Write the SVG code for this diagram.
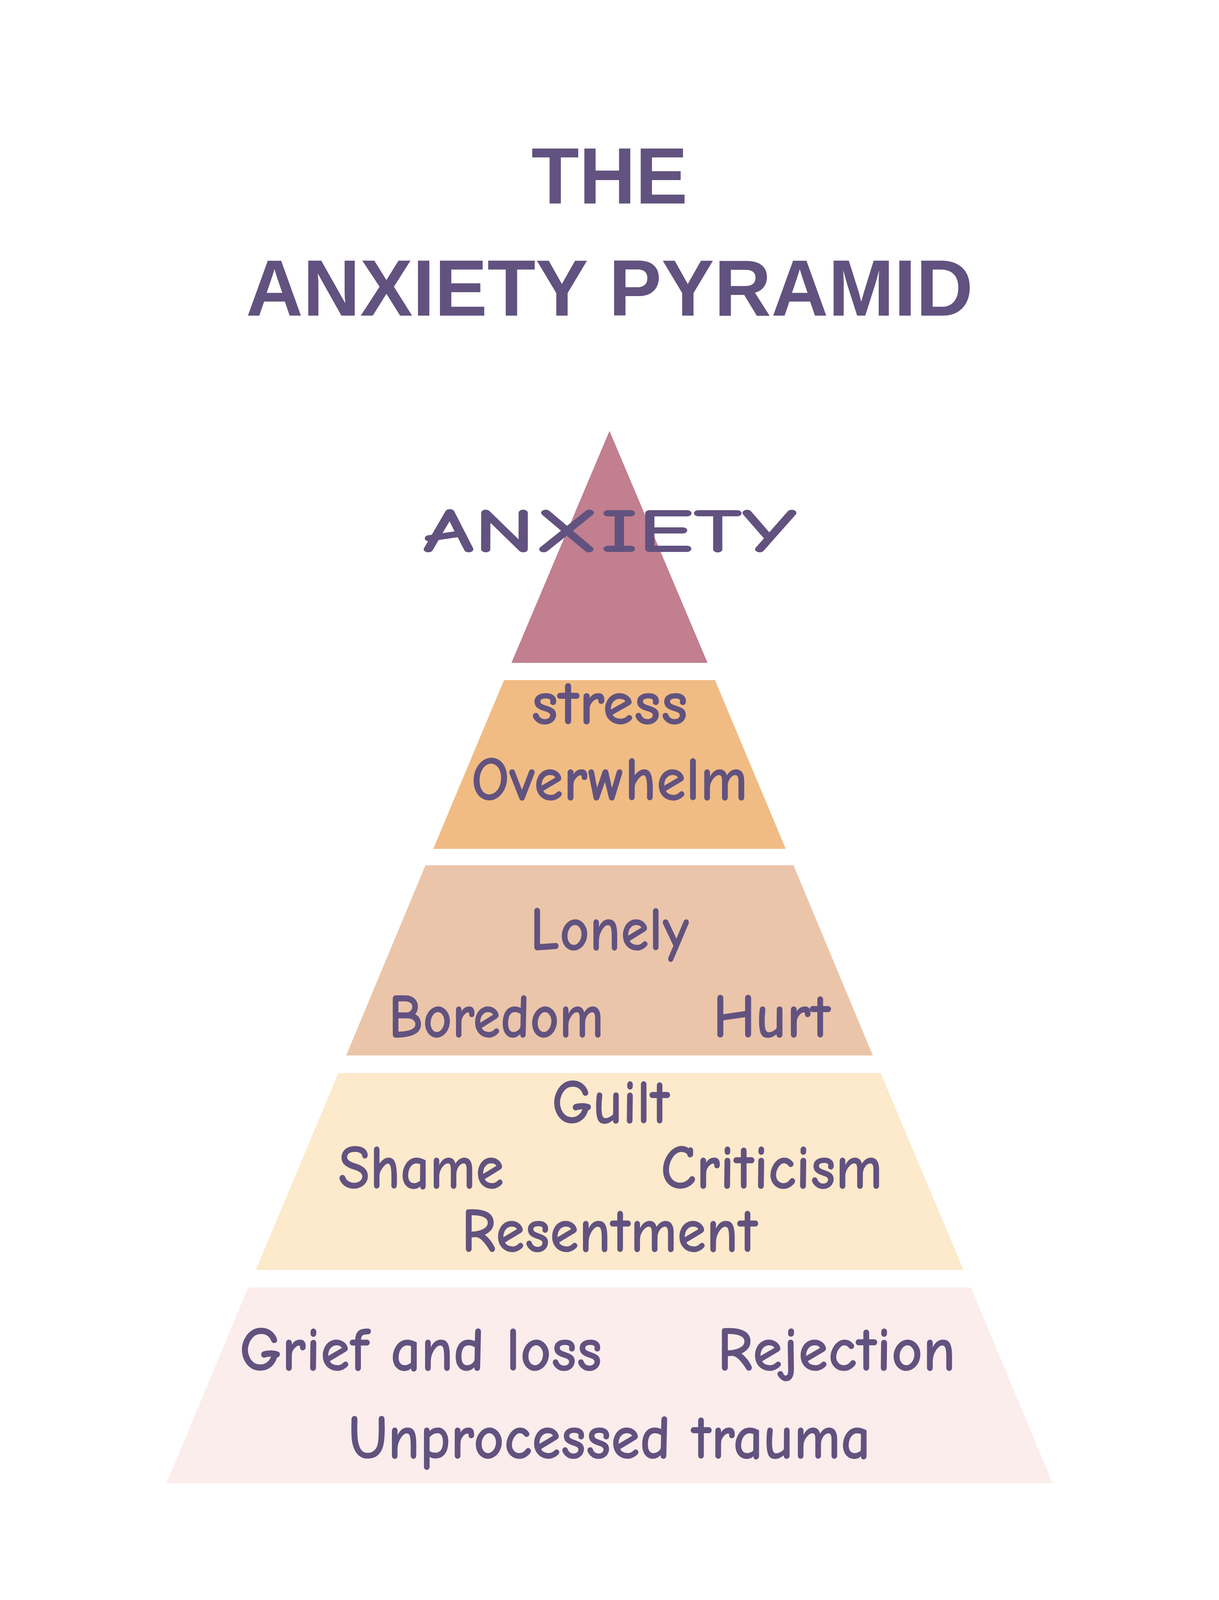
<svg xmlns="http://www.w3.org/2000/svg" width="3120" height="4368" viewBox="0 0 3120 4368">
<style>
.t{font-family:"Liberation Sans",Arial,sans-serif;font-weight:bold;fill:#62527F;text-anchor:middle}
.l{font-family:"Comic Neue","Noto Sans","Liberation Sans",sans-serif;font-weight:bold;fill:#62527F;text-anchor:middle;font-size:160px}
</style>
<rect width="3120" height="4368" fill="#fff"/>
<g id="title">
<text class="t" x="1560" y="521" font-size="205" textLength="400" lengthAdjust="spacingAndGlyphs">THE</text>
<text class="t" x="1560" y="808" font-size="205" textLength="1861" lengthAdjust="spacingAndGlyphs">ANXIETY PYRAMID</text>
</g>
<g id="tier1"><polygon points="1560,1103 1811,1697 1309,1697" fill="#C17F8F"/>
<text class="l" x="1560" y="1413" font-size="340" textLength="956" lengthAdjust="spacingAndGlyphs">ANXIETY</text></g>
<g id="tier2"><polygon points="1290,1741 1830,1741 2011,2173 1109,2173" fill="#F0BC84"/>
<text class="l" x="1560" y="1853" textLength="401" lengthAdjust="spacingAndGlyphs">stress</text>
<text class="l" x="1560" y="2048" textLength="708" lengthAdjust="spacingAndGlyphs">Overwhelm</text></g>
<g id="tier3"><polygon points="1089,2215 2031,2215 2234,2702 886,2702" fill="#EBC5AA"/>
<text class="l" x="1560" y="2432" textLength="407" lengthAdjust="spacingAndGlyphs">Lonely</text>
<text class="l" x="1270" y="2655" textLength="551" lengthAdjust="spacingAndGlyphs">Boredom</text>
<text class="l" x="1975" y="2655" textLength="301" lengthAdjust="spacingAndGlyphs">Hurt</text></g>
<g id="tier4"><polygon points="866,2747 2254,2747 2466,3251 655,3251" fill="#FDE9CB"/>
<text class="l" x="1563" y="2875" textLength="301" lengthAdjust="spacingAndGlyphs">Guilt</text>
<text class="l" x="1078" y="3042" textLength="424" lengthAdjust="spacingAndGlyphs">Shame</text>
<text class="l" x="1975" y="3042" textLength="568" lengthAdjust="spacingAndGlyphs">Criticism</text>
<text class="l" x="1560" y="3204" textLength="758" lengthAdjust="spacingAndGlyphs">Resentment</text></g>
<g id="tier5"><polygon points="635,3296 2485,3296 2694,3797 426,3797" fill="#FBEDEC"/>
<text class="l" x="1077" y="3508" textLength="928" lengthAdjust="spacingAndGlyphs">Grief and loss</text>
<text class="l" x="2141" y="3508" textLength="610" lengthAdjust="spacingAndGlyphs">Rejection</text>
<text class="l" x="1560" y="3733" textLength="1337" lengthAdjust="spacingAndGlyphs">Unprocessed trauma</text></g>
<g id="connectors"/>
</svg>
